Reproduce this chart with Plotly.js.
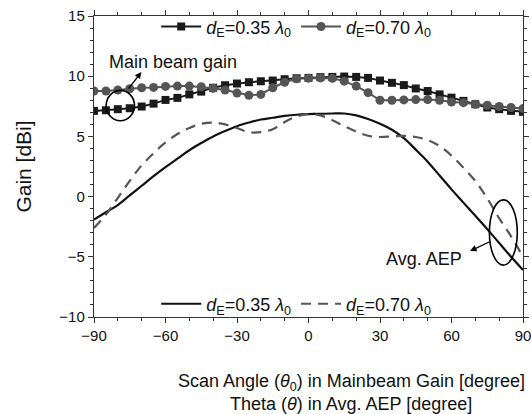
<!DOCTYPE html>
<html><head><meta charset="utf-8">
<script src="https://cdn.plot.ly/plotly-3.0.1.min.js"></script>
<style>html,body{margin:0;padding:0;background:#fff;}#chart{width:531px;height:414px;}</style>
</head><body><div id="chart"></div>
<script>
var angles = [-90,-85,-80,-75,-70,-65,-60,-55,-50,-45,-40,-35,-30,-25,-20,-15,-10,-5,0,5,10,15,20,25,30,35,40,45,50,55,60,65,70,75,80,85,90];
var gain035 = [7.12,7.17,7.26,7.34,7.48,7.72,8.03,8.2,8.49,8.72,9.04,9.25,9.39,9.5,9.58,9.64,9.75,9.83,9.86,9.92,9.94,9.97,9.94,9.86,9.64,9.45,9.26,8.98,8.77,8.49,8.22,7.95,7.67,7.4,7.26,7.12,7.04];
var gain070 = [8.77,8.77,8.85,8.96,9.04,9.07,9.15,9.18,9.18,9.12,9.0,8.85,8.6,8.41,8.49,9.04,9.5,9.78,9.84,9.86,9.82,9.59,9.18,8.63,8.0,8.0,8.03,8.06,8.06,8.0,7.86,7.8,7.67,7.59,7.48,7.4,7.31];
var aep035 = [-1.9,-1.3,-0.7,0.1,0.9,1.7,2.45,3.15,3.85,4.45,5.0,5.45,5.85,6.15,6.4,6.55,6.7,6.8,6.85,6.88,6.9,6.9,6.75,6.45,6.05,5.55,4.85,3.9,2.9,1.75,0.6,-0.5,-1.6,-2.7,-3.85,-5.0,-6.1];
var aep070 = [-2.6,-1.5,-0.1,1.3,2.6,3.6,4.5,5.2,5.7,6.05,6.15,6.0,5.7,5.35,5.35,5.6,6.2,6.65,6.85,6.75,6.35,5.85,5.4,5.05,4.95,5.0,5.05,4.95,4.7,4.2,3.4,2.4,1.3,-0.15,-1.8,-3.3,-5.0];
var name035 = '<i>d</i><sub>E</sub>=0.35 <i>λ</i><sub>0</sub>';
var name070 = '<i>d</i><sub>E</sub>=0.70 <i>λ</i><sub>0</sub>';

var F = 'Arial, "Liberation Sans", sans-serif';
var traces = [
  {x: angles, y: gain035, name: name035, mode: 'lines+markers', legend: 'legend',
   line: {color: '#1a1a1a', width: 2}, marker: {symbol: 'square', size: 8, color: '#1a1a1a'}},
  {x: angles, y: gain070, name: name070, mode: 'lines+markers', legend: 'legend',
   line: {color: '#555555', width: 2}, marker: {symbol: 'circle', size: 9, color: '#555555'}},
  {x: angles, y: aep035, name: name035, mode: 'lines', legend: 'legend2',
   line: {color: '#111111', width: 2.2, shape: 'spline'}},
  {x: angles, y: aep070, name: name070, mode: 'lines', legend: 'legend2',
   line: {color: '#555555', width: 2.2, dash: '10px,7px', shape: 'spline'}}
];

var axisCommon = {
  showgrid: false, zeroline: false, showline: true, linecolor: '#333', linewidth: 1.2,
  mirror: 'allticks', ticks: 'outside', ticklen: 5, tickcolor: '#333', tickwidth: 1,
  tickfont: {family: F, size: 15, color: '#111'}, ticklabeloverflow: 'allow', automargin: false
};

var layout = {
  width: 531, height: 414,
  margin: {l: 93.5, r: 8, t: 13, b: 97},
  paper_bgcolor: '#fff', plot_bgcolor: '#fff',
  font: {family: F, color: '#111'},
  xaxis: Object.assign({}, axisCommon, {
    range: [-90, 90], tick0: -90, dtick: 30,
    minor: {dtick: 10, ticks: 'outside', ticklen: 3, tickcolor: '#333', showgrid: false}
  }),
  yaxis: Object.assign({}, axisCommon, {
    range: [-10, 15], tick0: -10, dtick: 5,
    minor: {dtick: 1, ticks: 'outside', ticklen: 3, tickcolor: '#333', showgrid: false},
    title: {text: 'Gain [dBi]', font: {family: F, size: 21, color: '#111'}, standoff: 22}
  }),
  legend: {orientation: 'h', x: 0.145, y: 0.964, xanchor: 'left', yanchor: 'middle',
    bgcolor: 'rgba(255,255,255,0)', font: {family: F, size: 18, color: '#111'},
    itemwidth: 40, tracegroupgap: 0},
  legend2: {orientation: 'h', x: 0.145, y: 0.043, xanchor: 'left', yanchor: 'middle',
    bgcolor: 'rgba(255,255,255,0)', font: {family: F, size: 18, color: '#111'},
    itemwidth: 40},
  showlegend: true,
  shapes: [
    {type: 'circle', xref: 'x', yref: 'y', x0: -84.9, x1: -73.0, y0: 6.3, y1: 8.82,
     line: {color: '#000', width: 1.6}},
    {type: 'circle', xref: 'x', yref: 'y', x0: 75.9, x1: 87.6, y0: -5.69, y1: -0.27,
     line: {color: '#000', width: 1.6}}
  ],
  annotations: [
    {xref: 'paper', yref: 'paper', x: 0.6, y: 0, yshift: -65, xanchor: 'center', yanchor: 'middle', showarrow: false,
     text: 'Scan Angle (<i>θ</i><sub>0</sub>) in Mainbeam Gain [degree]', font: {family: F, size: 18, color: '#111'}},
    {xref: 'paper', yref: 'paper', x: 0.6, y: 0, yshift: -87, xanchor: 'center', yanchor: 'middle', showarrow: false,
     text: 'Theta (<i>θ</i>) in Avg. AEP [degree]', font: {family: F, size: 18, color: '#111'}},
    {xref: 'x', yref: 'y', x: -57, y: 11.2, xanchor: 'center', yanchor: 'middle', showarrow: false,
     text: 'Main beam gain', font: {family: F, size: 18, color: '#111'}},
    {xref: 'x', yref: 'y', x: 48.5, y: -5.2, xanchor: 'center', yanchor: 'middle', showarrow: false,
     text: 'Avg. AEP', font: {family: F, size: 18, color: '#111'}},
    {xref: 'x', yref: 'y', x: -70.1, y: 10.35, ax: -14, ay: 18, text: '', showarrow: true,
     arrowhead: 2, arrowsize: 1, arrowwidth: 1.3, arrowcolor: '#000'},
    {xref: 'x', yref: 'y', x: 67.8, y: -4.52, ax: 21, ay: -10, text: '', showarrow: true,
     arrowhead: 2, arrowsize: 1, arrowwidth: 1.3, arrowcolor: '#000'}
  ]
};

Plotly.newPlot('chart', traces, layout, {displayModeBar: false, staticPlot: true});
</script></body></html>
